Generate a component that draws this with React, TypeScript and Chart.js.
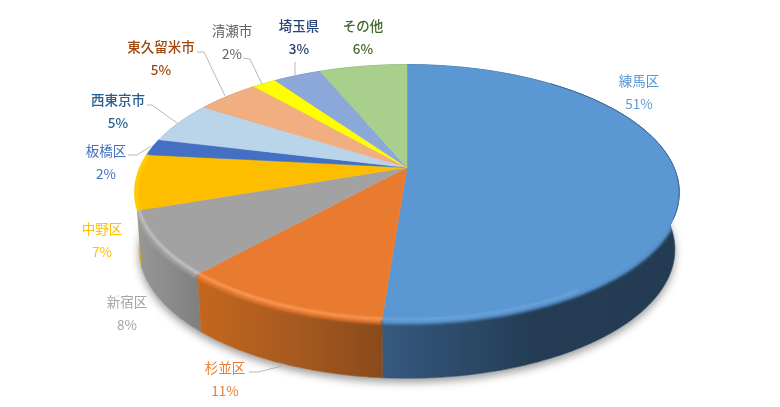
import { useEffect, useRef } from 'react'
import { Chart, registerables, Plugin } from 'chart.js'

Chart.register(...registerables)

const categories = ['練馬区', '杉並区', '新宿区', '中野区', '板橋区', '西東京市', '東久留米市', '清瀬市', '埼玉県', 'その他']
const shares = [51.2, 10.5, 8, 7, 2.1, 5.3, 4.5, 1.7, 3.4, 6.3]

const faceColors = ['#5a97d3', '#e97b30', '#a2a2a2', '#fdbe00', '#4370c2', '#bad4ea', '#f1ae80', '#ffff00', '#8ca7d9', '#a9cf8c']
const textColors = ['#5b9bd5', '#ed7d31', '#a5a5a5', '#ffc000', '#4472c4', '#255e91', '#9e480e', '#636363', '#264478', '#43682b']
const textWeights = [400, 400, 400, 400, 400, 500, 500, 400, 500, 500]
// left/right colour of each slice's side wall
const wallColors = [
  ['#36597f', '#243d55', '#233c53'],
  ['#c4671f', '#a85a20', '#8a4a1b'],
  ['#979797', '#8c8c8c', '#808080'],
  ['#eeb400', '#e0aa00', '#e0aa00'],
  ['#2f4f88', '#2f4f88', '#2f4f88'],
  ['#8494a3', '#8494a3', '#8494a3'],
  ['#a87a5a', '#a87a5a', '#a87a5a'],
  ['#b3b300', '#b3b300', '#b3b300'],
  ['#627598', '#627598', '#627598'],
  ['#769162', '#769162', '#769162'],
]
const rimColors = ['#6da6dc', '#fb9f5f', '#cbcbcb', '#ffd800', null, null, null, null, null, null]

// label centre [x, y of name], leader line points in page pixels
const labelAt = [[639, 81], [225, 368], [127, 302], [102, 229], [106, 151], [118, 100], [161, 47], [232, 31], [299, 26], [363, 26]]
const leaders: (number[][] | null)[] = [
  null,
  [[249, 372], [258, 372], [282, 366]],
  null,
  null,
  [[128, 155], [137, 155], [151, 146]],
  [[147, 105], [152, 105], [177, 123]],
  [[197, 52], [204, 52], [225, 96]],
  [[243, 58], [250, 59], [262, 84]],
  [[295, 62], [295, 75]],
  null,
]

// tilted disc: perspective projection of the unit circle
const CX = 407
const CY = 167.5
const K = 0.195
const A = 267
const B = 123
const SHRINK = 0.984

const topPoint = (a: number, r = 1) => {
  const u = Math.cos(a) * r
  const v = Math.sin(a) * r
  const w = 1 - K * v
  return [CX + (A * u) / w, CY + (B * v) / w]
}
const basePoint = (a: number) => {
  const p = topPoint(a)
  return [CX + (p[0] - CX) * SHRINK, p[1] + 56.8 + 1.2 * Math.sin(a)]
}
const sampleArc = (start: number, end: number, fn: (a: number) => number[]) => {
  const n = Math.max(2, Math.ceil((end - start) * 60))
  const pts: number[][] = []
  for (let i = 0; i <= n; i++) pts.push(fn(start + ((end - start) * i) / n))
  return pts
}
const tracePath = (ctx: CanvasRenderingContext2D, pts: number[][], move = true) => {
  pts.forEach((p, i) => {
    if (i === 0 && move) ctx.moveTo(p[0], p[1])
    else ctx.lineTo(p[0], p[1])
  })
}

const tiltedPie: Plugin<'pie'> = {
  id: 'tiltedPie',
  beforeDatasetsDraw(chart) {
    const ctx = chart.ctx
    const arcs = chart.getDatasetMeta(0).data as any[]
    ctx.save()

    // soft shadow under the disc
    ctx.save()
    ctx.shadowColor = 'rgba(0,0,0,0.4)'
    ctx.shadowBlur = 9
    ctx.shadowOffsetY = 4
    ctx.fillStyle = '#fff'
    ctx.beginPath()
    tracePath(ctx, sampleArc(0, Math.PI * 2, basePoint))
    ctx.fill()
    ctx.restore()

    // side walls, back slices first
    const order = arcs.map((_, i) => i).sort((p, q) => {
      const mid = (i: number) => Math.sin((arcs[i].startAngle + arcs[i].endAngle) / 2)
      return mid(p) - mid(q)
    })
    order.forEach((i) => {
      const arc = arcs[i]
      const upper = sampleArc(arc.startAngle, arc.endAngle, topPoint)
      const lower = sampleArc(arc.startAngle, arc.endAngle, basePoint).reverse()
      const xs = upper.map((p) => p[0])
      const left = Math.min(...xs)
      const right = Math.max(...xs)
      const grad = ctx.createLinearGradient(left, 0, right, 0)
      grad.addColorStop(0, wallColors[i][0])
      grad.addColorStop(0.5, wallColors[i][1])
      grad.addColorStop(1, wallColors[i][2])
      ctx.fillStyle = grad
      ctx.strokeStyle = grad
      ctx.lineWidth = 0.6
      ctx.beginPath()
      tracePath(ctx, upper)
      tracePath(ctx, lower, false)
      ctx.closePath()
      ctx.fill()
      ctx.stroke()
    })

    // soft bevel along the front of the rim
    ctx.lineCap = 'butt'
    arcs.forEach((arc, i) => {
      const rimStart = Math.max(arc.startAngle, -0.05)
      const rimEnd = Math.min(arc.endAngle, Math.PI + 0.35)
      if (rimEnd <= rimStart) return
      const rim = sampleArc(rimStart, rimEnd, (a) => {
        const p = topPoint(a)
        return [p[0], p[1] + 1]
      })
      ctx.save()
      ctx.beginPath()
      tracePath(ctx, sampleArc(arc.startAngle, arc.endAngle, topPoint))
      tracePath(ctx, sampleArc(arc.startAngle, arc.endAngle, basePoint).reverse(), false)
      ctx.closePath()
      ctx.clip()
      ctx.filter = 'blur(1.5px)'
      ctx.strokeStyle = faceColors[i]
      ctx.lineWidth = 6
      ctx.beginPath()
      tracePath(ctx, rim)
      ctx.stroke()
      ctx.restore()
    })

    // top faces
    arcs.forEach((arc, i) => {
      ctx.fillStyle = faceColors[i]
      ctx.strokeStyle = faceColors[i]
      ctx.lineWidth = 0.5
      ctx.beginPath()
      ctx.moveTo(CX, CY)
      tracePath(ctx, sampleArc(arc.startAngle, arc.endAngle, topPoint), false)
      ctx.closePath()
      ctx.fill()
      ctx.stroke()
    })

    // lit edge on the rim
    arcs.forEach((arc, i) => {
      const colour = rimColors[i]
      if (!colour) return
      const rimStart = Math.max(arc.startAngle, i === 0 ? 1.0 : -0.05)
      const rimEnd = Math.min(arc.endAngle, Math.PI + 0.35)
      if (rimEnd <= rimStart) return
      ctx.save()
      ctx.filter = 'blur(0.8px)'
      ctx.strokeStyle = colour
      ctx.lineWidth = 2.2
      ctx.beginPath()
      tracePath(ctx, sampleArc(rimStart, rimEnd, (a) => topPoint(a, 0.995)))
      ctx.stroke()
      ctx.restore()
    })

    // dark edge at the back right of the big slice
    ctx.save()
    ctx.filter = 'blur(0.6px)'
    ctx.strokeStyle = '#3a6a96'
    ctx.lineWidth = 1
    ctx.beginPath()
    tracePath(ctx, sampleArc(-0.9, 0.4, topPoint))
    ctx.stroke()
    ctx.restore()

    ctx.restore()
    return false
  },
  afterDraw(chart) {
    const ctx = chart.ctx
    ctx.save()
    ctx.strokeStyle = '#a6a6a6'
    ctx.lineWidth = 0.8
    leaders.forEach((line) => {
      if (!line) return
      ctx.beginPath()
      tracePath(ctx, line)
      ctx.stroke()
    })
    ctx.textAlign = 'center'
    ctx.textBaseline = 'middle'
    categories.forEach((name, i) => {
      const [x, y] = labelAt[i]
      ctx.font = `${textWeights[i]} 13.5px "Noto Sans CJK JP"`
      ctx.fillStyle = textColors[i]
      ctx.fillText(name, x, y)
      ctx.fillText(`${Math.round(shares[i])}%`, x, y + 23)
    })
    ctx.restore()
  },
}

export default function App() {
  const canvasRef = useRef<HTMLCanvasElement>(null)

  useEffect(() => {
    if (!canvasRef.current) return
    const chart = new Chart(canvasRef.current, {
      type: 'pie',
      data: {
        labels: categories,
        datasets: [{ data: shares, backgroundColor: faceColors, borderWidth: 0 }],
      },
      options: {
        responsive: false,
        animation: false,
        devicePixelRatio: 1,
        plugins: { legend: { display: false }, tooltip: { enabled: false } },
      },
      plugins: [tiltedPie],
    })
    return () => chart.destroy()
  }, [])

  return (
    <div style={{ position: 'fixed', left: 0, top: 0, width: 780, height: 407, background: '#fff' }}>
      <canvas ref={canvasRef} width={780} height={407} style={{ display: 'block' }} />
    </div>
  )
}
